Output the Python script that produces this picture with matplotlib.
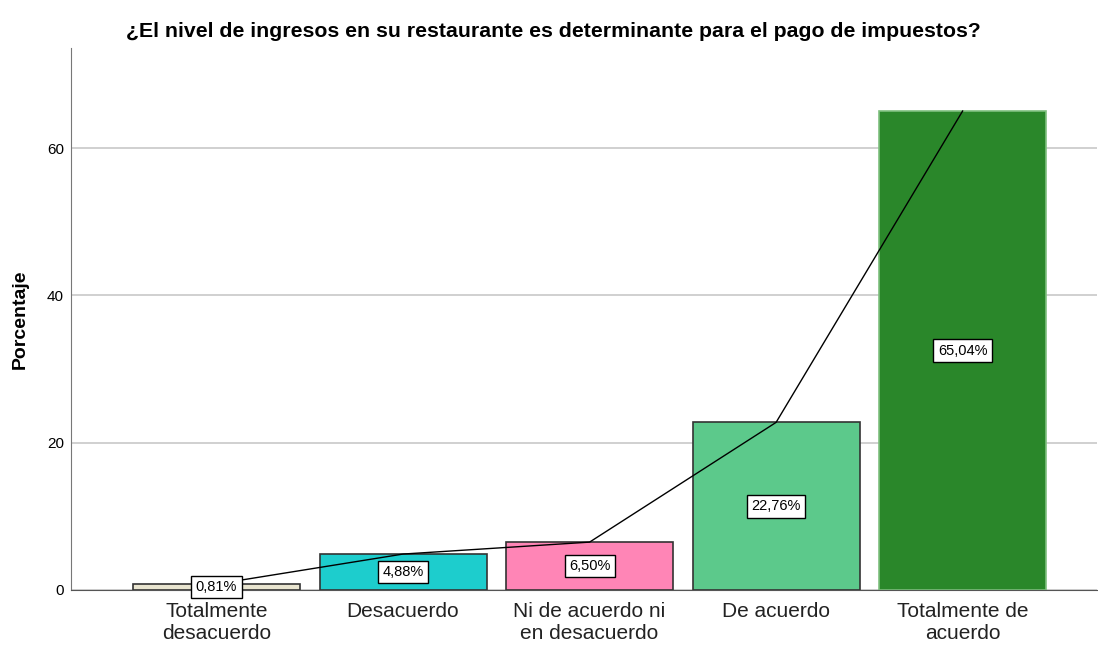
import matplotlib
matplotlib.use("Agg")
from matplotlib import pyplot as plt
import numpy as np

categorias = ["Totalmente\ndesacuerdo", "Desacuerdo", "Ni de acuerdo ni\nen desacuerdo",
              "De acuerdo", "Totalmente de\nacuerdo"]
porcentajes = [0.81, 4.88, 6.50, 22.76, 65.04]
etiquetas = ["0,81%", "4,88%", "6,50%", "22,76%", "65,04%"]
colores = ["#e9e5d0", "#1dcdcd", "#ff85b6", "#5cc98b", "#2a872a"]
bordes = ["#333333", "#333333", "#333333", "#333333", "#7fc07f"]
yticks = [0, 20, 40, 60]

plt.rcParams['font.family'] = ['Liberation Sans', 'DejaVu Sans']

fig = plt.figure(figsize=(10.98, 6.46), dpi=100)
ax = fig.add_axes([0.0647, 0.0867, 0.9343, 0.839])

x = np.arange(len(categorias))
ax.bar(x, porcentajes, width=0.895, color=colores, edgecolor=bordes, linewidth=1.2, zorder=2)
ax.plot(x, porcentajes, color="black", linewidth=1.0, zorder=3)

for xi, v, t in zip(x, porcentajes, etiquetas):
    ax.text(xi, v/2, t, ha="center", va="center", fontsize=10.5, zorder=4,
            bbox=dict(boxstyle="square,pad=0.3", facecolor="white", edgecolor="black", linewidth=1))

ax.set_xlim(-0.78, 4.72)
ax.set_ylim(0, 73.6)
ax.set_yticks(yticks)
ax.yaxis.grid(True, color="#c8c8c8", linewidth=1.2, zorder=0)
ax.set_axisbelow(True)
ax.set_xticks(x)
ax.set_xticklabels(categorias, fontsize=15, color="#222222", linespacing=1.2)
ax.tick_params(axis="x", length=0, pad=9)
ax.tick_params(axis="y", length=0, labelsize=11, pad=5)
for s in ["top", "right"]:
    ax.spines[s].set_visible(False)
ax.spines["left"].set_color("#777777")
ax.spines["bottom"].set_color("#555555")
ax.set_ylabel("Porcentaje", fontsize=14, fontweight="bold", labelpad=13)
ax.set_title("¿El nivel de ingresos en su restaurante es determinante para el pago de impuestos?",
             fontsize=15.3, fontweight="bold", pad=8, x=0.47)

fig.savefig("out.png", dpi=100)
